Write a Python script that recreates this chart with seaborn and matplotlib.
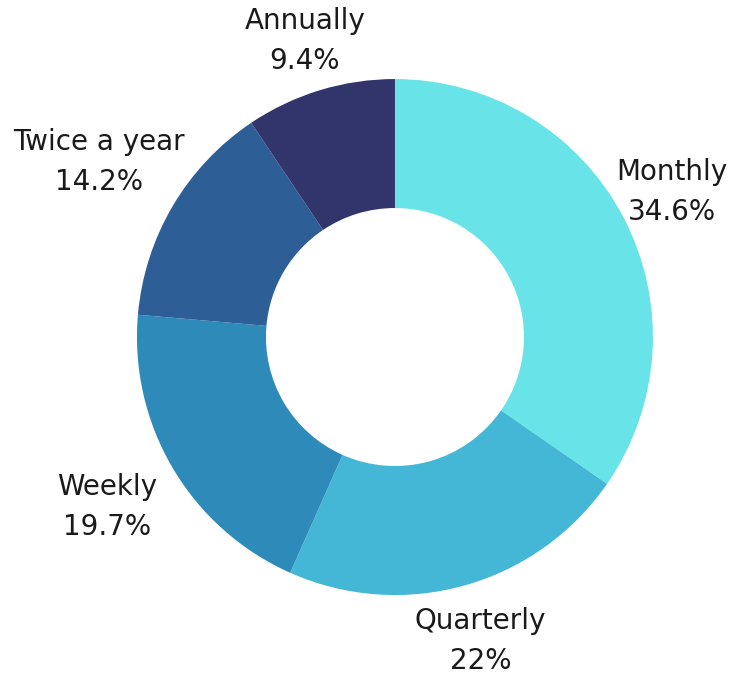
import numpy as np
import matplotlib
matplotlib.use("Agg")
import matplotlib.pyplot as plt
import seaborn as sns

categories = ["Monthly", "Quarterly", "Weekly", "Twice a year", "Annually"]
shares = [34.6, 22, 19.7, 14.2, 9.4]
colors = ["#68E4E8", "#44B6D6", "#2E8AB8", "#2E5E96", "#32346C"]

# label distance from centre, in units of the outer radius
label_r = [1.21, 1.225, 1.295, 1.333, 1.20]

sns.set_theme(style="white")
plt.rcParams["font.family"] = ["DejaVu Sans"]

fig = plt.figure(figsize=(7.44, 6.75), dpi=100)
fig.patch.set_facecolor("white")
# square axes so the ring sits where it does in the reference
ax = fig.add_axes([0.1841, 0.1185, 0.6935, 0.7644])
ax.set_facecolor("white")

palette = sns.color_palette(colors)
wedges, _ = ax.pie(shares, colors=palette, startangle=90, counterclock=False,
                   radius=1.0, wedgeprops=dict(width=0.5, linewidth=0),
                   frame=False)

for w, cat, val, r in zip(wedges, categories, shares, label_r):
    mid = np.deg2rad((w.theta1 + w.theta2) / 2)
    ax.text(r * np.cos(mid), r * np.sin(mid), f"{cat}\n{val:g}%",
            ha="center", va="center", multialignment="center",
            fontsize=20, color="#1a1a1a", linespacing=1.55)

ax.set_xlim(-1, 1)
ax.set_ylim(-1, 1)
ax.set_aspect("equal")
ax.axis("off")

fig.savefig("out.png", dpi=100)
